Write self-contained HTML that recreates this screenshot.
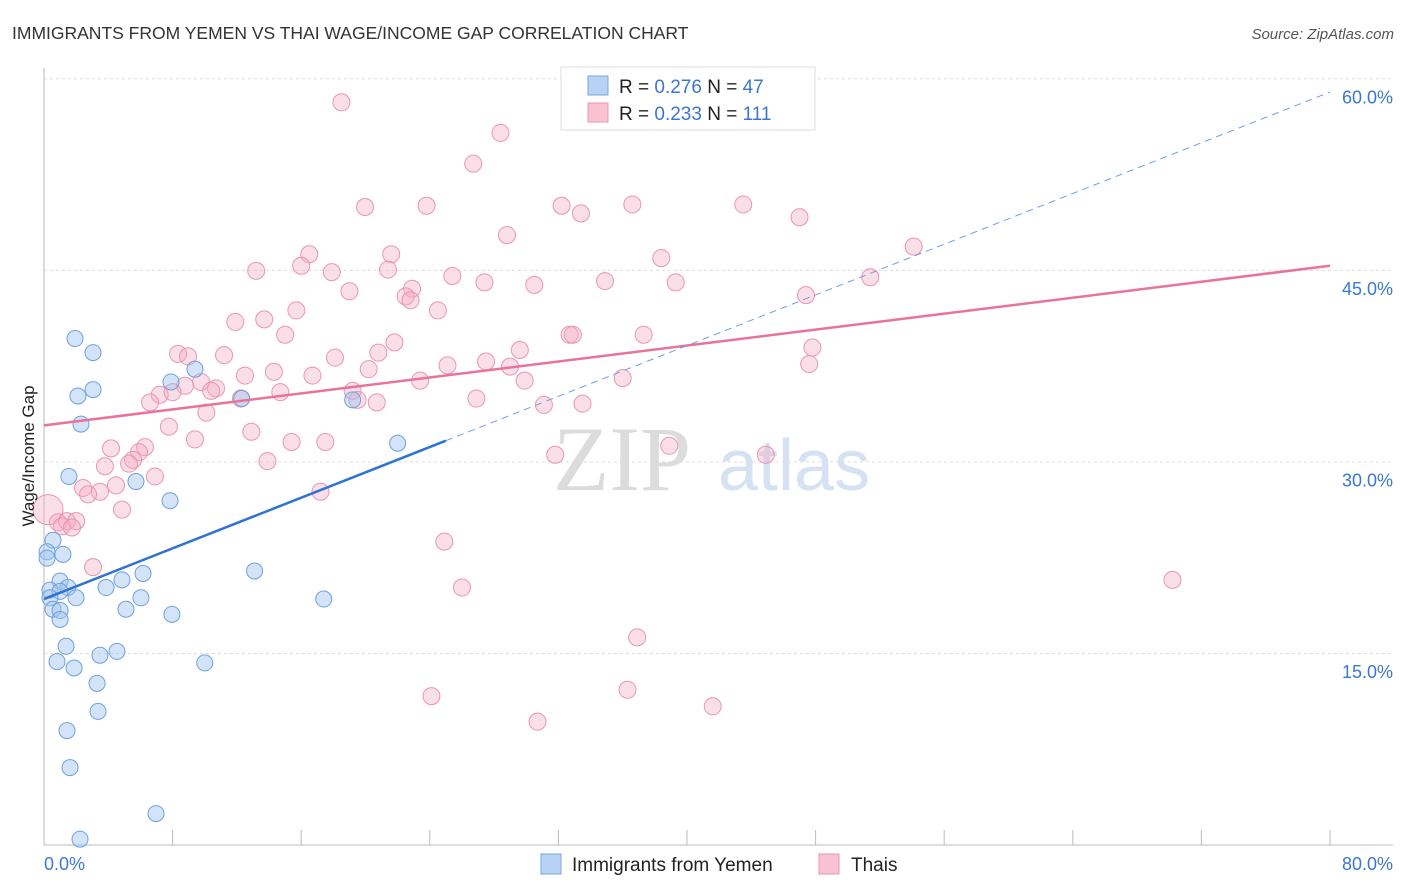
<!DOCTYPE html>
<html><head><meta charset="utf-8"><style>
body{margin:0;background:#fff;font-family:"Liberation Sans",sans-serif;}
svg{display:block}
</style></head><body>
<svg id="chart" width="1406" height="892">
<text x="12" y="39" font-size="17.5" fill="#333">IMMIGRANTS FROM YEMEN VS THAI WAGE/INCOME GAP CORRELATION CHART</text>
<text x="1394" y="39" font-size="15" fill="#555" font-style="italic" text-anchor="end">Source: ZipAtlas.com</text>
<g id="grid"></g>
<g>
<text x="553" y="490" font-size="92" fill="#dcdcdc" font-family="Liberation Serif,serif">ZIP</text>
<text x="718" y="490" font-size="72" fill="#d6e2f3">atlas</text>
</g>
<g id="axes"></g>
<g id="pts"></g>
<g id="lines"></g>
<text transform="translate(34,456) rotate(-90)" font-size="17" fill="#222" text-anchor="middle">Wage/Income Gap</text>
<g>
<rect x="561" y="67" width="254" height="63" fill="#fff" stroke="#ddd"/>
<rect x="588" y="76" width="20" height="19" fill="#b8d2f3" stroke="#7aa6e0"/>
<rect x="588" y="103" width="20" height="19" fill="#f9c2d3" stroke="#ec95b0"/>
<text x="619" y="93" font-size="19" fill="#222">R = <tspan fill="#3a78d0">0.276</tspan>   N = <tspan fill="#3a78d0">47</tspan></text>
<text x="619" y="120" font-size="19" fill="#222">R = <tspan fill="#3a78d0">0.233</tspan>   N = <tspan fill="#3a78d0">111</tspan></text>
</g>
<g>
<rect x="541" y="854" width="20" height="20" fill="#b8d2f3" stroke="#7aa6e0"/>
<text x="572" y="871" font-size="19" fill="#222">Immigrants from Yemen</text>
<rect x="819" y="854" width="20" height="20" fill="#f9c2d3" stroke="#ec95b0"/>
<text x="851" y="871" font-size="19" fill="#222">Thais</text>
</g>
</svg>
<script>
const yemenX=[1.93,3.05,2.11,3.05,2.30,7.9,9.39,12.3,19.2,22.0,1.55,5.72,7.84,0.56,0.19,1.18,0.19,1.0,1.49,0.37,1.0,1.99,0.37,0.56,1.0,1.0,3.86,4.85,6.16,6.03,5.1,7.96,13.1,17.4,1.37,0.81,1.87,3.48,4.54,10.0,3.30,3.36,1.43,1.62,6.97,2.24];
const yemenY=[39.7,38.6,35.2,35.7,33.0,36.3,37.3,35.0,34.9,31.5,28.9,28.5,27.0,23.9,23.0,22.8,22.5,20.7,20.2,20.0,19.9,19.4,19.4,18.5,18.4,17.7,20.2,20.8,21.3,19.4,18.5,18.1,21.5,19.3,15.6,14.4,13.9,14.9,15.2,14.3,12.7,10.5,9.0,6.1,2.5,0.5];
const thaiX=[18.5,28.4,26.7,19.97,23.8,32.2,33.4,36.6,43.5,47.0,28.8,16.5,21.6,16.0,21.4,13.2,17.9,25.4,38.4,54.1,51.4,27.4,30.5,34.9,39.3,19.0,22.9,22.5,22.8,47.4,15.7,24.5,13.7,11.9,15.0,32.7,32.9,37.3,21.8,47.8,8.34,8.96,11.2,18.1,20.8,29.6,27.5,25.1,28.99,20.2,14.3,12.5,16.7,47.6,8.77,9.77,23.4,29.9,36.0,10.7,10.4,14.7,19.2,7.2,8.0,6.6,12.25,19.5,20.7,26.9,31.1,33.5,10.1,7.77,12.9,9.39,15.4,17.5,4.17,6.28,5.91,5.54,31.8,38.9,44.9,3.79,5.29,13.9,6.9,2.43,4.48,3.48,2.74,17.2,4.85,0.25,0.87,1.43,2.0,1.12,1.74,24.9,3.05,26.0,70.2,36.9,36.3,24.1,41.6,30.7];
const thaiY=[58.2,55.8,53.4,50.0,50.1,50.1,49.5,50.2,50.2,49.2,47.8,46.3,46.3,45.4,45.1,45.0,44.9,44.6,46.0,46.9,44.5,44.1,43.9,44.2,44.1,43.4,43.6,43.0,42.7,43.1,41.9,41.9,41.2,41.0,40.0,40.0,40.0,40.0,39.4,39.0,38.5,38.3,38.4,38.2,38.6,38.8,37.9,37.6,37.5,37.3,37.1,36.8,36.8,37.7,36.0,36.3,36.4,36.4,36.6,35.8,35.6,35.5,35.6,35.3,35.5,34.7,35.0,34.9,34.7,35.0,34.5,34.6,33.9,32.8,32.4,31.8,31.6,31.6,31.1,31.2,30.8,30.2,30.6,31.3,30.6,29.7,29.9,30.1,28.9,28.0,28.2,27.7,27.5,27.7,26.3,26.3,25.3,25.4,25.4,25.0,24.9,23.8,21.8,20.2,20.8,16.3,12.2,11.7,10.9,9.7];
const yTicks=[15,30,45,60];
const yTickLabels=["15.0%","30.0%","45.0%","60.0%"];
const xTicks=[8,16,24,32,40,48,56,64,72,80];
const yemenTrend=[[0,19.3],[25,31.7],[80,59.0]];
const thaiTrend=[[0,32.9],[80,45.4]];
const NS="http://www.w3.org/2000/svg";
const X=v=>44+v/80*1286, Y=v=>845.5-v*12.77;
function mk(p,t,a){const e=document.createElementNS(NS,t);for(const k in a)e.setAttribute(k,a[k]);p.appendChild(e);return e;}
const grid=document.getElementById('grid'),axes=document.getElementById('axes'),pts=document.getElementById('pts'),lines=document.getElementById('lines');
yTicks.forEach((t,i)=>{
 const l=mk(grid,'line',{x1:44,x2:1393,y1:Y(t)-0.5,y2:Y(t)-0.5,stroke:'#ddd','stroke-dasharray':'3,3'});
 
 
 const tx=mk(axes,'text',{x:1393,y:Y(t)+24,'font-size':18,fill:'#3a78d0','text-anchor':'end'});
 tx.textContent=yTickLabels[i];
 
 
});
const al=mk(axes,'line',{x1:44,x2:44,y1:68,y2:845,stroke:'#bbb'});


const bl=mk(axes,'line',{x1:44,x2:1393,y1:845,y2:845,stroke:'#bbb'});


xTicks.forEach(t=>{
 const l=mk(axes,'line',{x1:X(t),x2:X(t),y1:830,y2:845,stroke:'#bbb'});
 
 
});
const x0=mk(axes,'text',{x:44,y:870,'font-size':18,fill:'#3a78d0'});x0.textContent='0.0%';


const x1=mk(axes,'text',{x:1393,y:870,'font-size':18,fill:'#3a78d0','text-anchor':'end'});x1.textContent='80.0%';


thaiX.forEach((v,i)=>{
 const c=mk(pts,'circle',{cx:X(v),cy:Y(thaiY[i]),r:(i==95?15:8.5),fill:'rgba(245,170,195,0.38)',stroke:'#ec95b0','stroke-width':1});
 
 
});
yemenX.forEach((v,i)=>{
 const c=mk(pts,'circle',{cx:X(v),cy:Y(yemenY[i]),r:8,fill:'rgba(160,195,240,0.45)',stroke:'#6fa0e0','stroke-width':1});
 
 
});
const tl=mk(lines,'line',{x1:X(thaiTrend[0][0]),y1:Y(thaiTrend[0][1]),x2:X(thaiTrend[1][0]),y2:Y(thaiTrend[1][1]),stroke:'#e8739b','stroke-width':2.5});


const yl=mk(lines,'line',{x1:X(yemenTrend[0][0]),y1:Y(yemenTrend[0][1]),x2:X(yemenTrend[1][0]),y2:Y(yemenTrend[1][1]),stroke:'#2e72d2','stroke-width':2.5});


const yd=mk(lines,'line',{x1:X(yemenTrend[1][0]),y1:Y(yemenTrend[1][1]),x2:X(yemenTrend[2][0]),y2:Y(yemenTrend[2][1]),stroke:'#6fa0e0','stroke-width':1,'stroke-dasharray':'7,5'});


</script>
</body></html>
